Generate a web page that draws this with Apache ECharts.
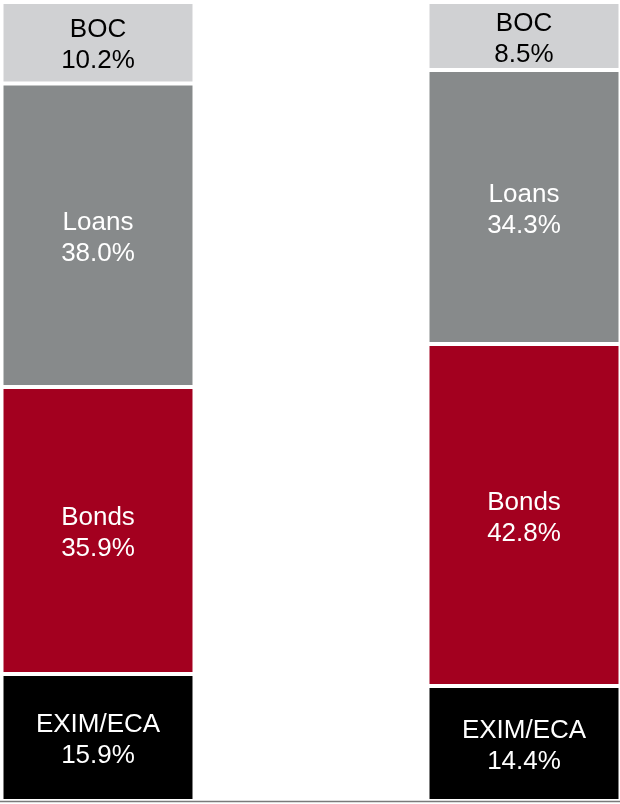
<!DOCTYPE html>
<html>
<head>
<meta charset="utf-8">
<style>
  html, body { margin: 0; padding: 0; background: #ffffff; }
  #chart { width: 620px; height: 804px; }
</style>
<script src="https://cdn.jsdelivr.net/npm/echarts@6/dist/echarts.min.js"></script>
</head>
<body>
<div id="chart"></div>
<script>
// Funding mix, two periods (shares in %)
const periods = ['Period A', 'Period B'];
const exim  = [15.9, 14.4];
const bonds = [35.9, 42.8];
const loans = [38.0, 34.3];
const boc   = [10.2, 8.5];

const segments = [
  { name: 'EXIM/ECA', data: exim,  fill: '#000000', text: '#ffffff' },
  { name: 'Bonds',    data: bonds, fill: '#a3001f', text: '#ffffff' },
  { name: 'Loans',    data: loans, fill: '#878a8b', text: '#ffffff' },
  { name: 'BOC',      data: boc,   fill: '#d0d1d3', text: '#000000' }
];

const chart = echarts.init(document.getElementById('chart'), null, { renderer: 'canvas' });

chart.setOption({
  animation: false,
  backgroundColor: '#ffffff',
  grid: { left: 98, right: 96, top: 2, bottom: 3, containLabel: false },
  xAxis: {
    type: 'category',
    data: periods,
    boundaryGap: false,
    axisLine: { show: false },
    axisTick: { show: false },
    axisLabel: { show: false },
    splitLine: { show: false }
  },
  yAxis: {
    type: 'value',
    min: 0,
    max: 100,
    show: false,
    splitLine: { show: false }
  },
  series: segments.map(s => ({
    name: s.name,
    type: 'bar',
    stack: 'mix',
    data: s.data,
    barWidth: 193,
    clip: false,
    itemStyle: { color: s.fill, borderColor: '#ffffff', borderWidth: 2 },
    label: {
      show: true,
      position: 'inside',
      offset: [0, 3],
      color: s.text,
      fontFamily: 'Liberation Sans, Arial, sans-serif',
      fontSize: 26,
      lineHeight: 31,
      formatter: p => s.name + '\n' + p.value.toFixed(1) + '%'
    }
  })),
  graphic: [{
    type: 'line',
    z: 100,
    shape: { x1: 0, y1: 801.5, x2: 620, y2: 801.5 },
    style: { stroke: '#7a7a7a', lineWidth: 1.5 }
  }]
});
</script>
</body>
</html>
